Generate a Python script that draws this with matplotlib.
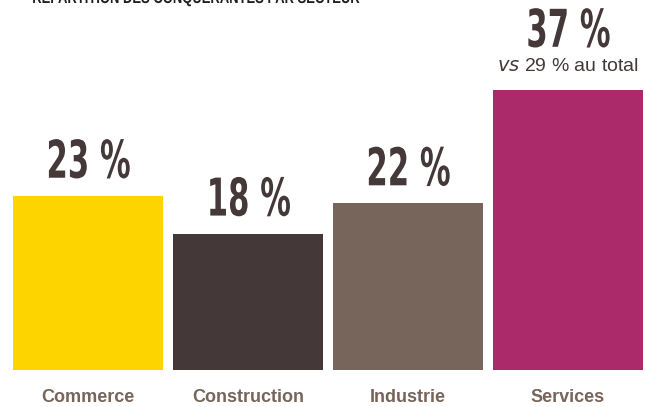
import matplotlib.pyplot as plt
import matplotlib.patheffects as pe
from matplotlib.transforms import Affine2D

categories = ["Commerce", "Construction", "Industrie", "Services"]
values = [23, 18, 22, 37]
labels = ["23 %", "18 %", "22 %", "37 %"]
colors = ["#FDD300", "#443838", "#77645B", "#AB2A6A"]
title = "RÉPARTITION DES CONQUÉRANTES PAR SECTEUR"
note = "29 % au total"


class Squeeze(pe.AbstractPathEffect):
    # narrows the glyphs horizontally (condensed look), text stays real text
    def __init__(self, sx, anchor="center"):
        super().__init__()
        self.sx = sx
        self.anchor = anchor

    def draw_path(self, renderer, gc, tpath, affine, rgbFace=None):
        ext = tpath.get_extents(affine)
        cx = ext.x0 if self.anchor == "left" else (ext.x0 + ext.x1) / 2
        affine = affine + Affine2D().translate(-cx, 0).scale(self.sx, 1).translate(cx, 0)
        renderer.draw_path(gc, tpath, affine, rgbFace)


fig = plt.figure(figsize=(6.45, 4.07), dpi=100)
ax = fig.add_axes([0, 0, 1, 1])

x = range(len(categories))
ax.bar(x, values, width=0.9375, color=colors)

# value labels above bars (extra room for the note on the last bar)
for i, (v, lab) in enumerate(zip(values, labels)):
    off = 5.7 if i == len(values) - 1 else 2.4
    ax.text(i, v + off, lab, ha="center", va="baseline", fontsize=37.5,
            fontweight="bold", family="DejaVu Sans", color="#443838",
            path_effects=[Squeeze(0.59)])

ax.text(3, 37 + 2.5, "$\\it{vs}$ " + note, ha="center", va="baseline", fontsize=14,
        color="#443838", family="Liberation Sans")

for i, c in enumerate(categories):
    ax.text(i, -4.25, c, ha="center", va="baseline", fontsize=13, fontweight="bold",
            family="Liberation Sans", color="#77645B")

fig.text(32 / 645, 1 - 3 / 407, title, ha="left", va="baseline", fontsize=12,
         fontweight="bold", family="Liberation Sans", color="#231F20",
         path_effects=[Squeeze(0.78, anchor="left")])

ax.set_xlim(-0.55, 3.48125)
ax.set_ylim(-4.89, 48.88)
ax.axis("off")

plt.savefig("out.png", dpi=100)
